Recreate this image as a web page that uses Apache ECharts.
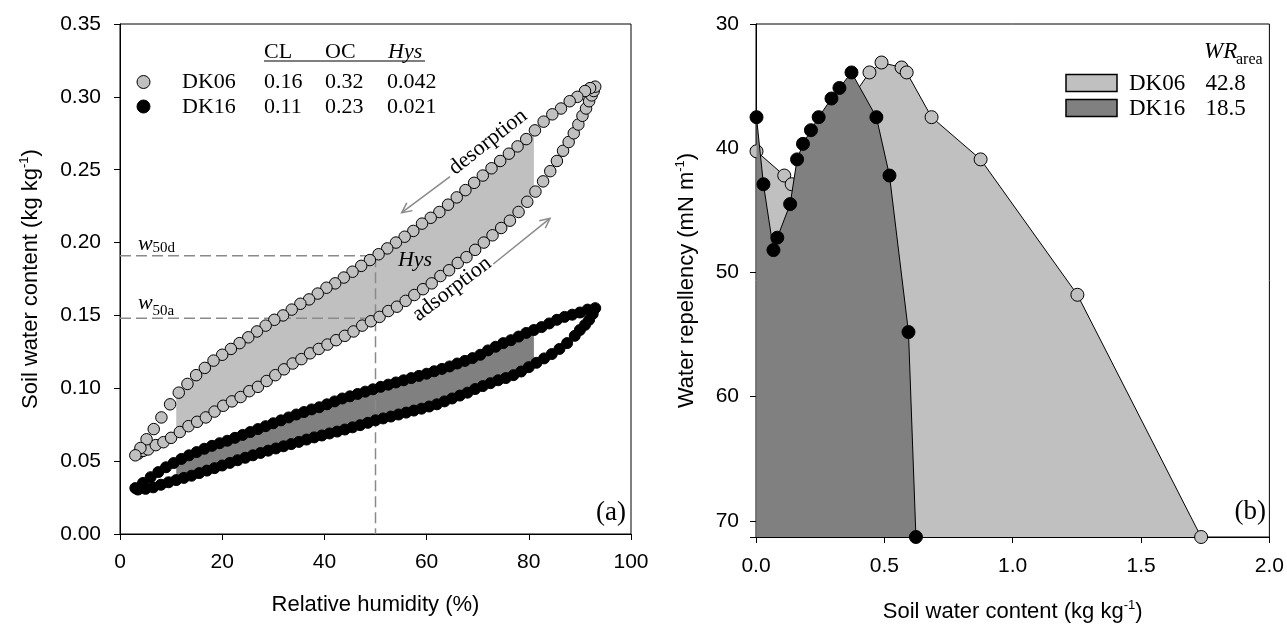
<!DOCTYPE html>
<html><head><meta charset="utf-8">
<script src="https://cdn.jsdelivr.net/npm/echarts@6/dist/echarts.min.js"></script>
<style>html,body{margin:0;padding:0;background:#fff}#c{width:1287px;height:628px}</style>
</head><body><div id="c"></div>
<script>
// ---------- Panel (a): sorption isotherms [RH %, w kg/kg] ----------
const dk06Adsorption = [[3.5,0.055],[4.5,0.057],[5.5,0.058],[7,0.061],[8.5,0.063],[10,0.066],[11.7,0.070],[13.4,0.074],[15.1,0.077],[16.8,0.080],[18.5,0.084],[20.2,0.088],[21.9,0.091],[23.6,0.094],[25.3,0.098],[27,0.101],[28.7,0.105],[30.4,0.109],[32.1,0.113],[33.8,0.117],[35.5,0.120],[37.2,0.124],[38.9,0.127],[40.6,0.130],[42.3,0.133],[44,0.136],[45.7,0.139],[47.4,0.143],[49.1,0.146],[50.8,0.149],[52.5,0.153],[54.2,0.156],[55.9,0.160],[57.6,0.164],[59.3,0.168],[61,0.172],[62.7,0.177],[64.4,0.181],[66.1,0.186],[67.8,0.190],[69.5,0.195],[71.2,0.200],[72.9,0.205],[74.6,0.210],[76.3,0.215],[78,0.221],[79.7,0.228],[81.3,0.235],[82.8,0.242],[84.2,0.249],[85.5,0.256],[86.7,0.263],[87.8,0.269],[88.8,0.275],[89.7,0.281],[90.5,0.287],[91.2,0.292],[91.8,0.297],[92.3,0.301],[92.7,0.304]];
const dk06Desorption = [[93,0.307],[92,0.306],[91,0.304],[89.5,0.300],[88,0.297],[86.3,0.292],[84.6,0.288],[82.9,0.283],[81.2,0.277],[79.5,0.271],[77.8,0.266],[76.1,0.261],[74.4,0.256],[72.7,0.251],[71,0.246],[69.3,0.241],[67.6,0.236],[65.9,0.231],[64.2,0.226],[62.5,0.221],[60.8,0.217],[59.1,0.213],[57.4,0.208],[55.7,0.204],[54,0.200],[52.3,0.196],[50.6,0.192],[48.9,0.188],[47.2,0.184],[45.5,0.180],[43.8,0.176],[42.1,0.172],[40.4,0.169],[38.7,0.165],[37,0.161],[35.3,0.158],[33.6,0.154],[31.9,0.150],[30.2,0.147],[28.5,0.143],[26.8,0.139],[25.1,0.135],[23.4,0.131],[21.7,0.127],[20,0.123],[18.3,0.119],[16.6,0.114],[14.9,0.109],[13.2,0.103],[11.5,0.097],[9.8,0.089],[8.1,0.080],[6.6,0.072],[5.2,0.065],[4,0.059],[3,0.054]];
const dk16Adsorption = [[3.5,0.0305],[5,0.031],[6.5,0.032],[8,0.0338],[9.5,0.0355],[11,0.037],[12.5,0.0385],[14,0.040],[15.5,0.0418],[17,0.0435],[18.5,0.0452],[20,0.047],[21.5,0.0488],[23,0.0506],[24.5,0.0523],[26,0.054],[27.5,0.0556],[29,0.0572],[30.5,0.0587],[32,0.0602],[33.5,0.0617],[35,0.0632],[36.5,0.0648],[38,0.0663],[39.5,0.0676],[41,0.069],[42.5,0.0703],[44,0.0717],[45.5,0.0732],[47,0.0747],[48.5,0.0763],[50,0.078],[51.5,0.0793],[53,0.0806],[54.5,0.082],[56,0.0833],[57.5,0.0847],[59,0.086],[60.5,0.0875],[62,0.089],[63.5,0.091],[65,0.093],[66.5,0.095],[68,0.097],[69.5,0.0995],[71,0.1015],[72.5,0.1035],[74,0.1055],[75.5,0.107],[77,0.109],[78.5,0.1115],[80,0.1145],[81.5,0.1175],[83,0.1205],[84.5,0.1235],[86,0.127],[87.5,0.131],[89,0.136],[90,0.140],[91,0.1435],[91.8,0.147],[92.5,0.151]];
const dk16Desorption = [[93,0.155],[91.5,0.154],[90,0.152],[88.5,0.1505],[87,0.149],[85.5,0.147],[84,0.1445],[82.5,0.142],[81,0.140],[79.5,0.138],[78,0.1355],[76.5,0.133],[75,0.131],[73.5,0.1285],[72,0.126],[70.5,0.123],[69,0.1207],[67.5,0.1188],[66,0.117],[64.5,0.115],[63,0.1133],[61.5,0.1117],[60,0.110],[58.5,0.1085],[57,0.107],[55.5,0.1055],[54,0.104],[52.5,0.1025],[51,0.101],[49.5,0.0993],[48,0.0977],[46.5,0.0961],[45,0.0945],[43.5,0.093],[42,0.091],[40.5,0.089],[39,0.087],[37.5,0.0855],[36,0.0837],[34.5,0.082],[33,0.080],[31.5,0.078],[30,0.076],[28.5,0.074],[27,0.072],[25.5,0.070],[24,0.068],[22.5,0.066],[21,0.064],[19.5,0.0623],[18,0.0605],[16.5,0.0585],[15,0.0562],[13.5,0.054],[12,0.0515],[10.5,0.0487],[9,0.0458],[7.5,0.0425],[6,0.039],[4.5,0.035],[3,0.0315]];
const hysRange = [11, 81];          // RH range of shaded hysteresis area
const rh50 = 50, w50d = 0.191, w50a = 0.148;

// Table in panel (a)
const tableHeaders = ['CL', 'OC', 'Hys'];
const tableSamples = ['DK06', 'DK16'];
const tableCL = ['0.16', '0.11'];
const tableOC = ['0.32', '0.23'];
const tableHys = ['0.042', '0.021'];

// ---------- Panel (b): water repellency [w kg/kg, WR mN/m] ----------
const wrDK06 = [[0.002,40.25],[0.110,42.2],[0.139,42.9],[0.442,33.9],[0.489,33.1],[0.567,33.5],[0.587,33.9],[0.684,37.5],[0.875,40.9],[1.252,51.8],[1.734,71.3]];
const wrDK16 = [[0.002,37.5],[0.029,42.9],[0.068,48.2],[0.083,47.2],[0.133,44.5],[0.160,40.9],[0.183,39.65],[0.214,38.55],[0.244,37.5],[0.294,36.0],[0.325,35.15],[0.372,33.9],[0.469,37.5],[0.520,42.2],[0.594,54.8],[0.623,71.3]];
const wrArea = ['42.8', '18.5'];

// ---------- styling ----------
const SANS = '"Liberation Sans", Arial, sans-serif';
const SERIF = '"Liberation Serif", "Times New Roman", serif';
const LIGHT = '#c0c0c0', DARK = '#808080', DASH = '#8a8a8a';

function interpAt(sorted, x) {
  for (let i = 0; i < sorted.length - 1; i++) {
    const a = sorted[i], b = sorted[i + 1];
    if (x >= a[0] && x <= b[0]) return a[1] + (b[1] - a[1]) * (x - a[0]) / (b[0] - a[0]);
  }
  return sorted[sorted.length - 1][1];
}
function clipBranch(branch, x0, x1) {
  const s = branch.slice().sort((p, q) => p[0] - q[0]);
  return [[x0, interpAt(s, x0)]].concat(s.filter(p => p[0] > x0 && p[0] < x1), [[x1, interpAt(s, x1)]]);
}
function hysPolygon(des, ads) {
  return clipBranch(des, hysRange[0], hysRange[1]).concat(clipBranch(ads, hysRange[0], hysRange[1]).reverse());
}
const poly06 = hysPolygon(dk06Desorption, dk06Adsorption);
const poly16 = hysPolygon(dk16Desorption, dk16Adsorption);

function shadeSeries(poly, color) {
  return {
    type: 'custom', xAxisIndex: 0, yAxisIndex: 0, data: [0], silent: true, z: 1,
    renderItem: (params, api) => ({
      type: 'polygon', shape: { points: poly.map(p => api.coord(p)) }, style: { fill: color }
    })
  };
}

function arrow(ax, ay, bx, by) {
  const dx = ax - bx, dy = ay - by, L = Math.hypot(dx, dy);
  const ux = dx / L, uy = dy / L, c = Math.cos(0.45), s = Math.sin(0.45), h = 11;
  const l1 = [bx + h * (ux * c - uy * s), by + h * (ux * s + uy * c)];
  const l2 = [bx + h * (ux * c + uy * s), by + h * (-ux * s + uy * c)];
  return [
    { type: 'line', shape: { x1: ax, y1: ay, x2: bx, y2: by }, style: { stroke: DASH, lineWidth: 1.5 }, z: 50 },
    { type: 'polyline', shape: { points: [l1, [bx, by], l2] }, style: { stroke: DASH, lineWidth: 1.5, fill: null }, z: 50 }
  ];
}
function txt(x, y, text, font, opts) {
  return Object.assign({ type: 'text', x: x, y: y, z: 60,
    style: { text: text, font: font, fill: '#000', align: (opts && opts.align) || 'left', verticalAlign: 'middle' } },
    opts && opts.rotation !== undefined ? { rotation: opts.rotation } : {});
}

const axisNameRich = {
  t: { fontSize: 22, fontFamily: SANS, color: '#000', lineHeight: 26 },
  s: { fontSize: 13, fontFamily: SANS, color: '#000', lineHeight: 13, verticalAlign: 'top' }
};
const commonAxis = {
  axisLine: { show: true, lineStyle: { color: '#000', width: 1 } },
  axisTick: { show: true, inside: false, length: 6, lineStyle: { color: '#000', width: 1 } },
  splitLine: { show: false },
  axisLabel: { color: '#000', fontSize: 21, fontFamily: SANS }
};

const graphics = [];
// table in panel (a)
const colX = [264, 325, 388];
tableHeaders.forEach((h, i) => graphics.push(txt(colX[i], 52, h, (i === 2 ? 'italic ' : '') + '22px ' + SERIF)));
graphics.push({ type: 'line', shape: { x1: 264, y1: 61, x2: 425, y2: 61 }, style: { stroke: '#000', lineWidth: 1.2 }, z: 60 });
const rowY = [82.5, 107];
tableSamples.forEach((s, r) => {
  graphics.push({ type: 'circle', shape: { cx: 143.5, cy: rowY[r] - 0.5, r: 6.5 }, style: { fill: r === 0 ? LIGHT : '#000', stroke: '#000', lineWidth: 1 }, z: 60 });
  graphics.push(txt(182, rowY[r], s, '22px ' + SERIF));
  graphics.push(txt(colX[0], rowY[r], tableCL[r], '22px ' + SERIF));
  graphics.push(txt(colX[1], rowY[r], tableOC[r], '22px ' + SERIF));
  graphics.push(txt(colX[2] - 1, rowY[r], tableHys[r], '22px ' + SERIF));
});
// annotations panel (a)
graphics.push(txt(415, 260.5, 'Hys', 'italic 22px ' + SERIF, { align: 'center' }));
graphics.push(txt(488, 142, 'desorption', '22px ' + SERIF, { align: 'center', rotation: 0.665 }));
graphics.push(txt(452, 289, 'adsorption', '22px ' + SERIF, { align: 'center', rotation: 0.65 }));
graphics.push(txt(138, 244, 'w', 'italic 22px ' + SERIF));
graphics.push(txt(152.5, 248, '50d', '15px ' + SERIF));
graphics.push(txt(138, 303, 'w', 'italic 22px ' + SERIF));
graphics.push(txt(152.5, 311, '50a', '15px ' + SERIF));
graphics.push(txt(626, 513, '(a)', '27px ' + SERIF, { align: 'right' }));
arrow(450, 176.7, 401.7, 212.7).forEach(g => graphics.push(g));
arrow(493.3, 264, 550, 218.3).forEach(g => graphics.push(g));
// legend panel (b)
graphics.push(txt(1204, 52, 'WR', 'italic 23px ' + SERIF));
graphics.push(txt(1236, 60, 'area', '16px ' + SERIF));
[LIGHT, DARK].forEach((c, r) => {
  const y = [74.5, 99.5][r];
  graphics.push({ type: 'rect', shape: { x: 1066, y: y, width: 51, height: 17 }, style: { fill: c, stroke: '#000', lineWidth: 1.5 }, z: 60 });
  graphics.push(txt(1129, y + 9, tableSamples[r], '23px ' + SERIF));
  graphics.push(txt(1205.5, y + 9, wrArea[r], '23px ' + SERIF));
});
graphics.push(txt(1266, 512, '(b)', '27px ' + SERIF, { align: 'right' }));

const option = {
  animation: false,
  backgroundColor: '#fff',
  grid: [
    { left: 120, top: 24, width: 511, height: 510, show: true, borderColor: '#000', borderWidth: 1, backgroundColor: 'transparent' },
    { left: 756, top: 24, width: 514, height: 514, show: true, borderColor: '#000', borderWidth: 1, backgroundColor: 'transparent' }
  ],
  xAxis: [
    Object.assign({}, commonAxis, { gridIndex: 0, type: 'value', min: 0, max: 100, interval: 20,
      axisLabel: Object.assign({}, commonAxis.axisLabel, { margin: 18 }),
      name: 'Relative humidity (%)', nameLocation: 'middle', nameGap: 60,
      nameTextStyle: { fontSize: 22, fontFamily: SANS, color: '#000' } }),
    Object.assign({}, commonAxis, { gridIndex: 1, type: 'value', min: 0, max: 2, interval: 0.5,
      axisLabel: Object.assign({}, commonAxis.axisLabel, { margin: 19, formatter: v => v.toFixed(1) }),
      name: '{t|Soil water content (kg kg}{s|-1}{t|)}', nameLocation: 'middle', nameGap: 62,
      nameTextStyle: { rich: axisNameRich } })
  ],
  yAxis: [
    Object.assign({}, commonAxis, { gridIndex: 0, type: 'value', min: 0, max: 0.35, interval: 0.05,
      axisLabel: Object.assign({}, commonAxis.axisLabel, { margin: 19, formatter: v => v.toFixed(2) }),
      name: '{t|Soil water content (kg kg}{s|-1}{t|)}', nameLocation: 'middle', nameGap: 76,
      nameTextStyle: { rich: axisNameRich } }),
    Object.assign({}, commonAxis, { gridIndex: 1, type: 'value', min: 30, max: 71.3, interval: 10, inverse: true,
      axisLabel: Object.assign({}, commonAxis.axisLabel, { margin: 17, formatter: v => (Math.abs(v % 10) < 1e-9 ? String(v) : '') }),
      name: '{t|Water repellency (mN m}{s|-1}{t|)}', nameLocation: 'middle', nameGap: 56,
      nameTextStyle: { rich: axisNameRich } })
  ],
  series: [
    shadeSeries(poly06, LIGHT),
    shadeSeries(poly16, DARK),
    { type: 'line', xAxisIndex: 0, yAxisIndex: 0, data: [[0, w50d], [rh50, w50d], [rh50, 0]], symbol: 'none', silent: true, z: 2,
      lineStyle: { color: DASH, width: 1.5, type: [11, 5] } },
    { type: 'line', xAxisIndex: 0, yAxisIndex: 0, data: [[0, w50a], [rh50, w50a]], symbol: 'none', silent: true, z: 2,
      lineStyle: { color: DASH, width: 1.5, type: [11, 5] } },
    { type: 'scatter', xAxisIndex: 0, yAxisIndex: 0, data: dk06Adsorption.concat(dk06Desorption), symbolSize: 11.5, z: 3,
      itemStyle: { color: LIGHT, borderColor: '#000', borderWidth: 1, opacity: 1 } },
    { type: 'scatter', xAxisIndex: 0, yAxisIndex: 0, data: dk16Adsorption.concat(dk16Desorption), symbolSize: 11, z: 3,
      itemStyle: { color: '#000', borderColor: '#000', borderWidth: 1, opacity: 1 } },
    { type: 'line', xAxisIndex: 1, yAxisIndex: 1, data: wrDK06, symbol: 'circle', symbolSize: 13, showSymbol: true, showAllSymbol: true,
      clip: false, z: 4,
      itemStyle: { color: LIGHT, borderColor: '#000', borderWidth: 1 }, lineStyle: { color: '#000', width: 1 },
      areaStyle: { color: LIGHT, opacity: 1, origin: 'end' } },
    { type: 'line', xAxisIndex: 1, yAxisIndex: 1, data: wrDK16, symbol: 'circle', symbolSize: 13, showSymbol: true, showAllSymbol: true,
      clip: false, z: 5,
      itemStyle: { color: '#000', borderColor: '#000', borderWidth: 1 }, lineStyle: { color: '#000', width: 1 },
      areaStyle: { color: DARK, opacity: 1, origin: 'end' } }
  ],
  graphic: graphics
};
const chart = echarts.init(document.getElementById('c'), null, { renderer: 'canvas' });
chart.setOption(option);
</script></body></html>
